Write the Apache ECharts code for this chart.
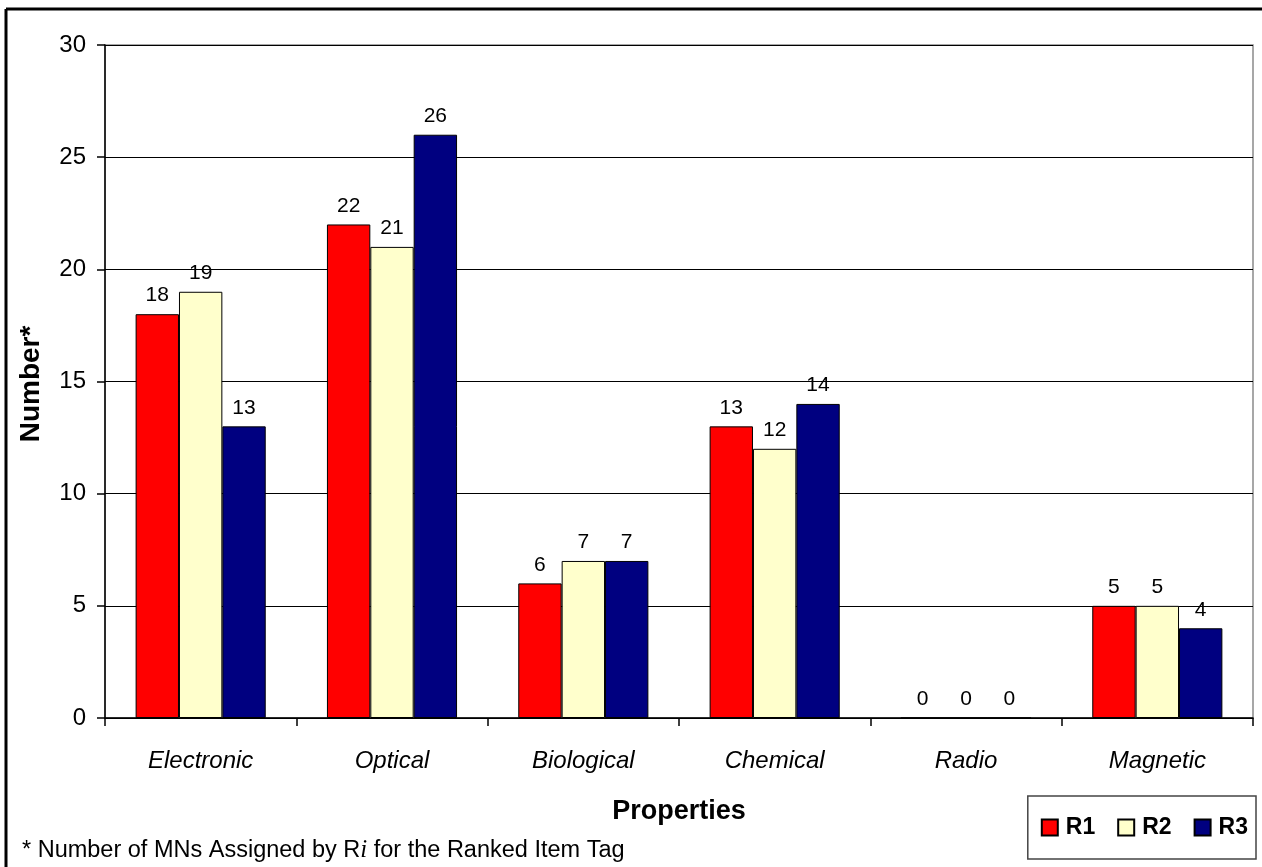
<!DOCTYPE html>
<html>
<head>
<meta charset="utf-8">
<script src="https://cdn.jsdelivr.net/npm/echarts@6/dist/echarts.min.js"></script>
<style>
  html, body { margin: 0; padding: 0; background: #fff; }
  #chart { width: 1262px; height: 867px; }
</style>
</head>
<body>
<div id="chart"></div>
<script>
// Number of MNs per property type, by ranking R1–R3
const categories = ['Electronic', 'Optical', 'Biological', 'Chemical', 'Radio', 'Magnetic'];
const seriesNames = ['R1', 'R2', 'R3'];
const r1Values = [18, 22, 6, 13, 0, 5];
const r2Values = [19, 21, 7, 12, 0, 5];
const r3Values = [13, 26, 7, 14, 0, 4];
const seriesColors = ['#FF0000', '#FFFFCC', '#000080'];
const yTicks = [0, 5, 10, 15, 20, 25, 30];

const FONT = '"Liberation Sans", Arial, sans-serif';
const valueSets = [r1Values, r2Values, r3Values];

const chart = echarts.init(document.getElementById('chart'), null, { renderer: 'canvas' });

const series = seriesNames.map((name, i) => ({
  name: name,
  type: 'bar',
  data: valueSets[i],
  barGap: '0%',
  barCategoryGap: '32%',
  itemStyle: { color: seriesColors[i], borderColor: '#000', borderWidth: 1 },
  label: {
    show: true,
    position: 'top',
    distance: 8,
    color: '#000',
    fontFamily: FONT,
    fontSize: 21
  }
}));

chart.setOption({
  animation: false,
  backgroundColor: '#fff',
  grid: {
    left: 105, right: 9, top: 45, bottom: 149,
    show: true, borderColor: '#8a8a8a', borderWidth: 1.5, backgroundColor: 'transparent'
  },
  legend: {
    data: seriesNames,
    right: 6, top: 796,
    width: 260,
    orient: 'horizontal',
    icon: 'rect',
    itemWidth: 16, itemHeight: 16,
    itemGap: 22,
    padding: [20, 8, 20, 13],
    borderColor: '#444', borderWidth: 1.5,
    textStyle: { fontFamily: FONT, fontSize: 23, fontWeight: 'bold', color: '#000', padding: [0, 0, 0, 3] }
  },
  xAxis: {
    type: 'category',
    data: categories,
    axisLine: { lineStyle: { color: '#000', width: 1.5 } },
    axisTick: { show: true, length: 8, alignWithLabel: false, lineStyle: { color: '#000', width: 1.5 } },
    axisLabel: { color: '#000', fontFamily: FONT, fontSize: 24, fontStyle: 'italic', margin: 31 },
    splitLine: { show: false }
  },
  yAxis: {
    type: 'value',
    min: yTicks[0],
    max: yTicks[yTicks.length - 1],
    interval: yTicks[1] - yTicks[0],
    axisLine: { show: true, lineStyle: { color: '#000', width: 1.5 } },
    axisTick: { show: true, length: 8, lineStyle: { color: '#000', width: 1.5 } },
    axisLabel: { color: '#000', fontFamily: FONT, fontSize: 24, margin: 19 },
    splitLine: { show: true, lineStyle: { color: '#000', width: 1 } }
  },
  series: series,
  graphic: [
    // page frame
    { type: 'line', shape: { x1: 6, y1: 9, x2: 1262, y2: 9 }, style: { stroke: '#000', lineWidth: 3 } },
    { type: 'line', shape: { x1: 6, y1: 9, x2: 6, y2: 867 }, style: { stroke: '#000', lineWidth: 3 } },
    // axis titles
    {
      type: 'text', x: 679, y: 812,
      style: { text: 'Properties', fill: '#000', font: 'bold 27px ' + FONT, textAlign: 'center', textVerticalAlign: 'middle' }
    },
    {
      type: 'text', x: 31, y: 384, rotation: Math.PI / 2,
      style: { text: 'Number*', fill: '#000', font: 'bold 28px ' + FONT, textAlign: 'center', textVerticalAlign: 'middle' }
    },
    // footnote
    {
      type: 'text', left: 22, top: 838,
      style: {
        text: '{a|* Number of MNs Assigned by R}{b|i}{a| for the Ranked Item Tag}',
        rich: {
          a: { fontFamily: FONT, fontSize: 23.5, fill: '#000' },
          b: { fontFamily: '"Liberation Serif", "DejaVu Serif", serif', fontStyle: 'italic', fontSize: 25, fill: '#000' }
        }
      }
    }
  ]
});
</script>
</body>
</html>
